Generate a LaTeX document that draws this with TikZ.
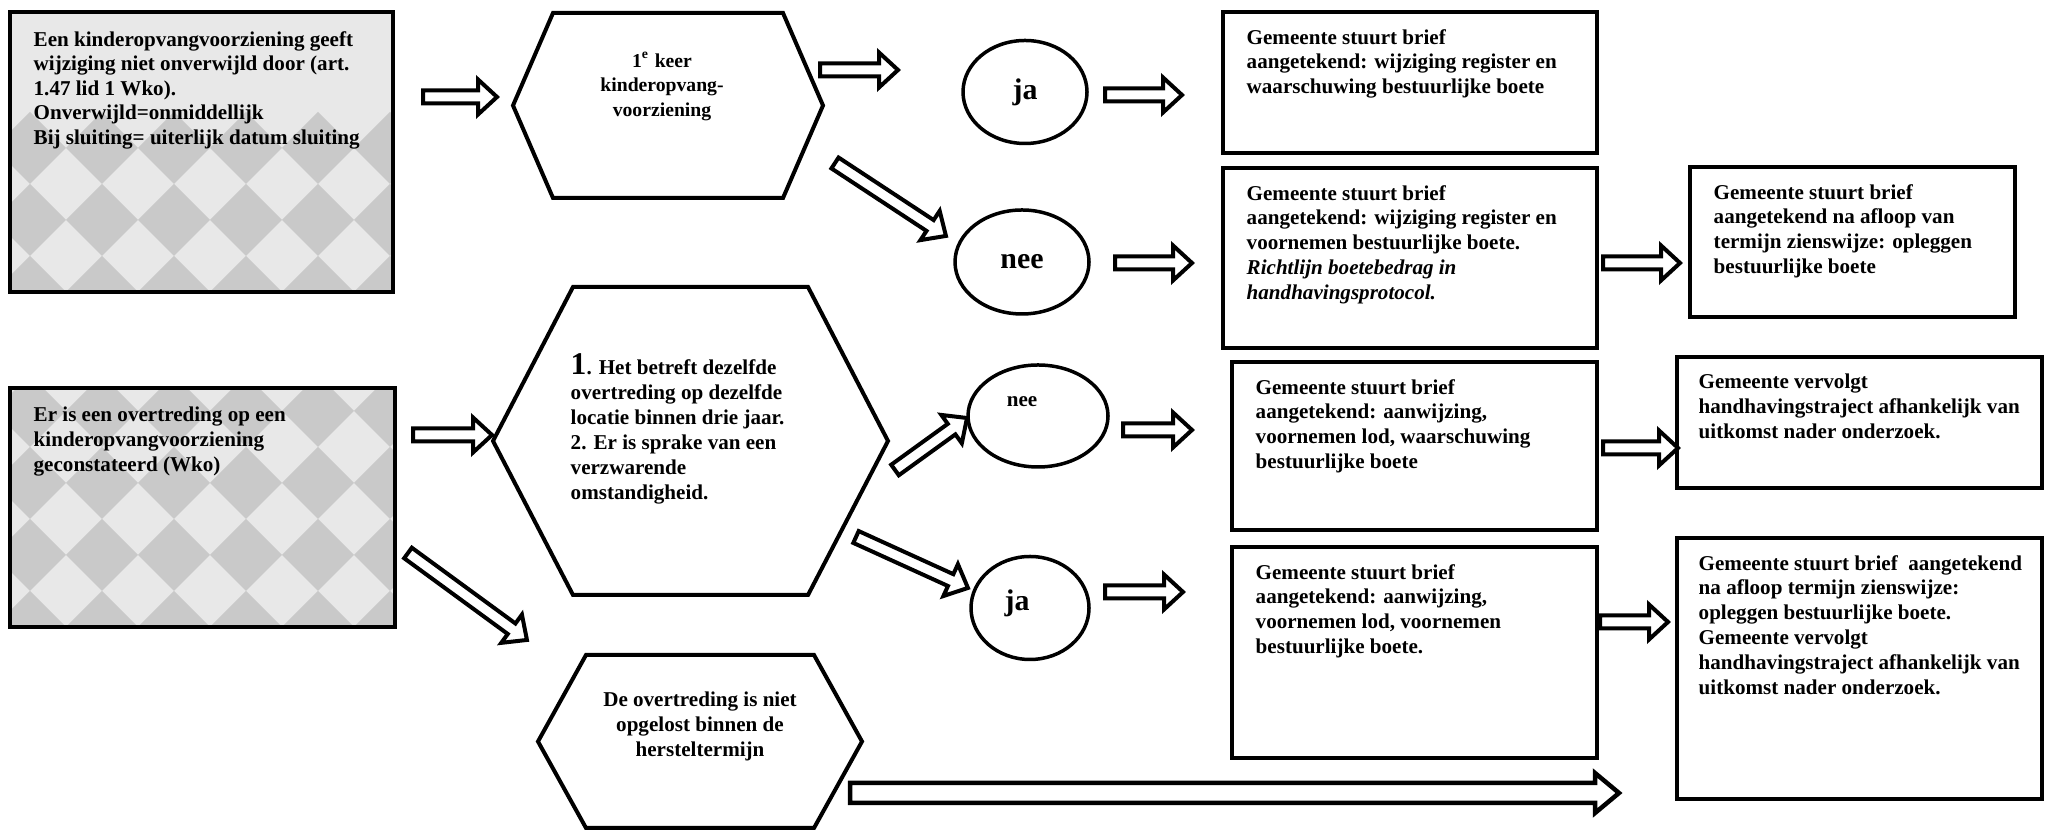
\documentclass[tikz,border=0pt]{standalone}
\usepackage{fontspec}
\setmainfont{Liberation Serif}
\usetikzlibrary{calc, shapes.geometric}

\newcommand{\boxfont}{\fontsize{6}{7.1}\selectfont\bfseries}
\newcommand{\hexfont}{\fontsize{5.6}{6.9}\selectfont\bfseries}
\newcommand{\ovalfont}{\fontsize{8.5}{9}\selectfont\bfseries}

\tikzset{
	box/.style={draw, line width=0.4mm, inner sep=0pt, outer sep=0pt, anchor=north west},
	shaded/.style={box, fill=black!9, path picture={
		\foreach \i in {0,...,6}
			\foreach \j in {0,...,#1}
				\fill[black!21] (path picture bounding box.south west) ++(\i*0.72+0.2,\j*0.72-0.36)
					-- ++(0.36,0.36) -- ++(-0.36,0.36) -- ++(-0.36,-0.36) -- cycle;}},
	boxtext/.style={anchor=north west, align=left, inner xsep=2.3mm, inner ysep=1.65mm, font=\boxfont},
	hexbox/.style={inner sep=0pt, outer sep=0pt},
	hexline/.style={line width=0.4mm, line join=miter},
	oval/.style={ellipse, draw, line width=0.35mm, inner sep=0pt, font=\ovalfont},
	shaft/.store in=\shaftw, head/.store in=\headw, headlen/.store in=\headl,
	hollow/.style={draw, fill=white, line width=0.4mm, line join=miter, shaft=0.65mm, head=1.75mm, headlen=1.9mm},
}

% hollow block arrow from #2 to #3
\newcommand{\blockarrow}[3][]{%
	\path let \p1=($(#3)-(#2)$) in \pgfextra{%
		\pgfmathsetmacro{\arang}{atan2(\y1,\x1)}\xdef\arang{\arang}%
		\pgfmathsetmacro{\arlen}{veclen(\x1,\y1)}\xdef\arlen{\arlen}};
	\draw[hollow, #1, shift={(#2)}, rotate=\arang]
		(0pt,-\shaftw) -- ({\arlen pt-\headl},-\shaftw) -- ({\arlen pt-\headl},-\headw)
		-- (\arlen pt,0pt) -- ({\arlen pt-\headl},\headw) -- ({\arlen pt-\headl},\shaftw)
		-- (0pt,\shaftw) -- cycle;
}

% hexagon round a node, #2 = inset of the points
\newcommand{\hexframe}[2]{%
	\draw[hexline] (#1.west) -- ([xshift=#2]#1.north west) -- ([xshift=-#2]#1.north east)
		-- (#1.east) -- ([xshift=-#2]#1.south east) -- ([xshift=#2]#1.south west) -- cycle;
}

\begin{document}
\begin{tikzpicture}
		\useasboundingbox (0,0) rectangle (20.47,8.32);

		% Start boxes
		\node[shaded=2, minimum width=3.83cm, minimum height=2.80cm] (vrzA) at (0.10,8.20) {};
		\node[boxtext, inner ysep=1.85mm, font=\fontsize{6}{7}\selectfont\bfseries] (vrzAt) at (vrzA.north west)
			{Een kinderopvangvoorziening geeft\\wijziging niet onverwijld door (art.\\1.47 lid 1 Wko).\\Onverwijld=onmiddellijk\\Bij sluiting= uiterlijk datum sluiting};
		\node[shaded=3, minimum width=3.85cm, minimum height=2.39cm] (vrzB) at (0.10,4.44) {};
		\node[boxtext, inner ysep=1.85mm] (vrzBt) at (vrzB.north west)
			{Er is een overtreding op een\\kinderopvangvoorziening\\geconstateerd (Wko)};

		% Hexagons
		\node[hexbox, minimum width=3.10cm, minimum height=1.85cm] (keer) at (6.68,7.265) {};
		\hexframe{keer}{0.40cm}
		\node[font=\hexfont, align=center] (keert) at ([shift={(-0.06,0.19)}]keer.center)
			{1\textsuperscript{e} keer\\kinderopvang-\\voorziening};

		\node[hexbox, minimum width=3.95cm, minimum height=3.08cm] (herh) at (6.905,3.91) {};
		\hexframe{herh}{0.80cm}
		\node[font=\boxfont, align=left, anchor=north west, inner sep=0pt] (herht) at ([shift={(0.77,-0.66)}]herh.north west)
			{{\fontsize{9}{9}\selectfont 1}. Het betreft dezelfde\\overtreding op dezelfde\\locatie binnen drie jaar.\\2. Er is sprake van een\\verzwarende\\omstandigheid.};

		\node[hexbox, minimum width=3.24cm, minimum height=1.73cm] (nietop) at (7.00,0.905) {};
		\hexframe{nietop}{0.48cm}
		\node[font=\boxfont, align=center] (nietopt) at ([yshift=0.15cm]nietop.center)
			{De overtreding is niet\\opgelost binnen de\\hersteltermijn};

		% Answers
		\node[oval, minimum width=1.24cm, minimum height=1.03cm] (jaA) at (10.25,7.40) {ja};
		\node[oval, minimum width=1.34cm, minimum height=1.04cm] (neeA) at (10.22,5.70) {nee};
		\node[oval, minimum width=1.40cm, minimum height=1.02cm] (neeB) at (10.38,4.16) {};
		\node[font=\boxfont] (neeBt) at ([shift={(-0.16,0.14)}]neeB.center) {nee};
		\node[oval, minimum width=1.18cm, minimum height=1.03cm] (jaB) at (10.30,2.24) {};
		\node[font=\ovalfont] (jaBt) at ([shift={(-0.13,0.05)}]jaB.center) {ja};

		% Letters of the municipality
		\node[box, minimum width=3.74cm, minimum height=1.41cm] (briefA) at (12.23,8.20) {};
		\node[boxtext] (briefAt) at (briefA.north west)
			{Gemeente stuurt brief\\aangetekend: wijziging register en\\waarschuwing bestuurlijke boete};
		\node[box, minimum width=3.74cm, minimum height=1.80cm] (briefB) at (12.23,6.64) {};
		\node[boxtext] (briefBt) at (briefB.north west)
			{Gemeente stuurt brief\\aangetekend: wijziging register en\\voornemen bestuurlijke boete.\\\textit{Richtlijn boetebedrag in}\\\textit{handhavingsprotocol.}};
		\node[box, minimum width=3.25cm, minimum height=1.50cm] (boeteB) at (16.90,6.65) {};
		\node[boxtext] (boeteBt) at (boeteB.north west)
			{Gemeente stuurt brief\\aangetekend na afloop van\\termijn zienswijze: opleggen\\bestuurlijke boete};
		\node[box, minimum width=3.65cm, minimum height=1.68cm] (briefC) at (12.32,4.70) {};
		\node[boxtext] (briefCt) at (briefC.north west)
			{Gemeente stuurt brief\\aangetekend: aanwijzing,\\voornemen lod, waarschuwing\\bestuurlijke boete};
		\node[box, minimum width=3.65cm, minimum height=1.31cm] (vervC) at (16.77,4.75) {};
		\node[boxtext, inner xsep=2.1mm] (vervCt) at (vervC.north west)
			{Gemeente vervolgt\\handhavingstraject afhankelijk van\\uitkomst nader onderzoek.};
		\node[box, minimum width=3.65cm, minimum height=2.11cm] (briefD) at (12.32,2.85) {};
		\node[boxtext] (briefDt) at (briefD.north west)
			{Gemeente stuurt brief\\aangetekend: aanwijzing,\\voornemen lod, voornemen\\bestuurlijke boete.};
		\node[box, minimum width=3.65cm, minimum height=2.61cm] (boeteD) at (16.77,2.94) {};
		\node[boxtext, inner xsep=2.1mm] (boeteDt) at (boeteD.north west)
			{Gemeente stuurt brief\ \ aangetekend\\na afloop termijn zienswijze:\\opleggen bestuurlijke boete.\\Gemeente vervolgt\\handhavingstraject afhankelijk van\\uitkomst nader onderzoek.};

		% Arrow ends
		\coordinate (a1s) at (4.23,7.35);   \coordinate (a1e) at (4.97,7.35);
		\coordinate (a2s) at (8.20,7.62);   \coordinate (a2e) at (8.98,7.62);
		\coordinate (a3s) at (8.35,6.69);   \coordinate (a3e) at (9.46,5.96);
		\coordinate (a4s) at (11.05,7.37);  \coordinate (a4e) at (11.82,7.37);
		\coordinate (a5s) at (11.15,5.69);  \coordinate (a5e) at (11.92,5.69);
		\coordinate (a6s) at (16.03,5.69);  \coordinate (a6e) at (16.80,5.69);
		\coordinate (a7s) at (4.13,3.97);   \coordinate (a7e) at (4.92,3.97);
		\coordinate (a8s) at (8.95,3.62);   \coordinate (a8e) at (9.67,4.14);
		\coordinate (a9s) at (8.56,2.95);   \coordinate (a9e) at (9.68,2.44);
		\coordinate (a10s) at (11.23,4.02); \coordinate (a10e) at (11.92,4.02);
		\coordinate (a11s) at (11.05,2.40); \coordinate (a11e) at (11.83,2.40);
		\coordinate (a12s) at (16.03,3.84); \coordinate (a12e) at (16.78,3.84);
		\coordinate (a13s) at (16.00,2.10); \coordinate (a13e) at (16.68,2.10);
		\coordinate (a14s) at (4.08,2.79);  \coordinate (a14e) at (5.27,1.92);
		\coordinate (a15s) at (8.50,0.39);  \coordinate (a15e) at (16.19,0.39);

		% Arrows
		\blockarrow{a1s}{a1e}
		\blockarrow{a2s}{a2e}
		\blockarrow{a3s}{a3e}
		\blockarrow{a4s}{a4e}
		\blockarrow{a5s}{a5e}
		\blockarrow{a6s}{a6e}
		\blockarrow{a7s}{a7e}
		\blockarrow{a8s}{a8e}
		\blockarrow{a9s}{a9e}
		\blockarrow{a10s}{a10e}
		\blockarrow{a11s}{a11e}
		\blockarrow{a12s}{a12e}
		\blockarrow{a13s}{a13e}
		\blockarrow{a14s}{a14e}
		\blockarrow[shaft=1.0mm, head=2.0mm, headlen=2.4mm, line width=0.45mm]{a15s}{a15e}
	\end{tikzpicture}
\end{document}
